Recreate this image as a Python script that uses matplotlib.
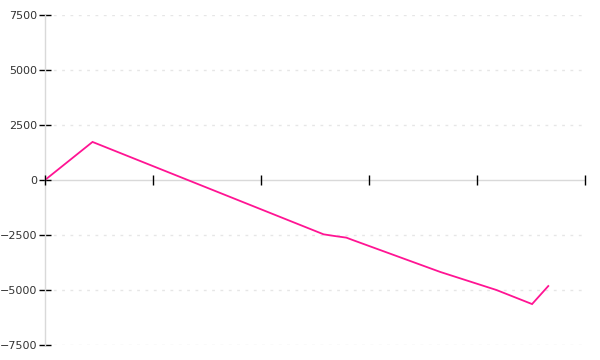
import numpy as np
import matplotlib
matplotlib.use('Agg')
import matplotlib.pyplot as plt

# data (x in axis units 0..500, y values)
x_vals = [0, 44, 258, 268, 279, 285, 366, 418, 451, 466]
y_vals = [0, 1730, -2470, -2545, -2620, -2730, -4180, -5000, -5640, -4820]
y_ticks = [-7500, -5000, -2500, 0, 2500, 5000, 7500]
x_ticks = [0, 100, 200, 300, 400, 500]

fig = plt.figure(figsize=(6, 3.6), dpi=100)
ax = fig.add_axes([45 / 600, 15 / 360, 540 / 600, 330 / 360])

ax.plot(x_vals, y_vals, color='#ff1493', linewidth=1.3, solid_joinstyle='miter')

ax.set_xlim(0, 500)
ax.set_ylim(-7500, 7500)

# dotted grid at non-zero ticks
for v in y_ticks:
    if v != 0:
        ax.axhline(v, color='#e6e6e6', linewidth=1, linestyle=(0, (2, 4)), zorder=0)

# axes lines
for s in ['top', 'right', 'bottom']:
    ax.spines[s].set_visible(False)
ax.spines['left'].set_color('#d9d9d9')
ax.spines['left'].set_linewidth(1)
ax.axhline(0, color='#d9d9d9', linewidth=1, zorder=1)

ax.set_yticks(y_ticks)
ax.set_yticklabels(['\u22127500', '\u22125000', '\u22122500', '0', '2500', '5000', '7500'])
ax.tick_params(axis='y', direction='inout', length=9, width=1, color='black',
               labelsize=8, labelcolor='#333333', pad=1)

ax.set_xticks([])
# x ticks drawn crossing the zero line
ax.vlines(x_ticks, -210, 210, color='black', linewidth=1, clip_on=False, zorder=3)

fig.savefig('out.png', dpi=100)
